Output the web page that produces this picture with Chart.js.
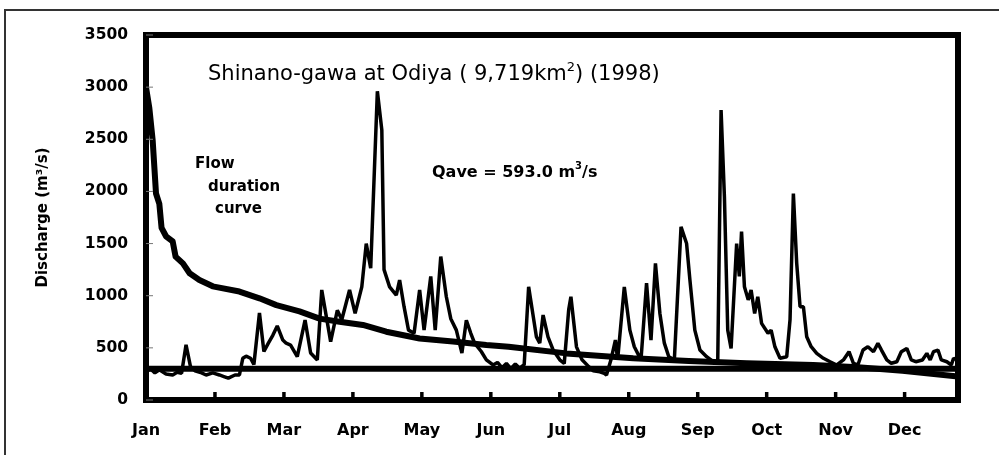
<!DOCTYPE html>
<html>
<head>
<meta charset="utf-8">
<script src="https://cdn.jsdelivr.net/npm/chart.js@4.4.1/dist/chart.umd.min.js"></script>
<style>
  html, body { margin: 0; padding: 0; background: #fff; }
  canvas { display: block; }
</style>
</head>
<body>
<canvas id="flowChart" width="999" height="455"></canvas>
<script>
// Daily discharge 1998 (m3/s), day 0 = 1 Jan
var hydroDays = [
  0, 2, 4, 6, 9, 12, 14, 16, 18, 20, 22, 25, 27, 30,            // Jan
  33, 35, 37, 40, 42, 43.5, 45, 47, 48.5, 51, 53, 55, 57, 59,    // Feb
  61.5, 63, 65, 68, 71.5, 74, 77, 79, 83, 86, 88, 91.5, 94,      // Mar
  97, 99, 101, 104, 106, 107, 109.5, 112.5, 114, 116, 118, 120.5, // Apr
  123, 125, 128, 130, 132.5, 135, 137, 139.5, 142, 144, 146, 147.7, 150.7, // May
  153, 156, 158, 160, 162, 164, 166, 168, 170, 172, 175.5, 177, 178.5, 180.7, // Jun
  183, 186, 188, 190, 191, 193.5, 196, 199, 201, 204, 206, 207, 209, 211, 212, // Jul
  215, 217.5, 219.5, 222.5, 225, 227, 229, 231, 233, 235, 237.5, 240.5, 243, 244.5, // Aug
  246.7, 249, 252, 255, 257, 258.5, 260, 261.5, 263, 265.5, 266.7, 267.7, 269, 270.7, 272, 273.6, // Sep
  275, 276.7, 279.6, 281, 282.7, 285, 288, 289.5, 291, 292.5, 294, 295.5, 297, 299, 301.5, 304.5, // Oct
  307.5, 310.5, 313.5, 316, 318, 320, 322.3, 324.5, 327, 329, 330.6, 333, 335, // Nov
  337.5, 339.5, 342, 344, 346, 349, 351, 352.5, 354, 356, 357.5, 360, 362, 363, 365 // Dec
];
var hydroQ = [
  270, 300, 260, 290, 250, 240, 265, 256, 530, 320, 280, 260, 240, 260,
  240, 225, 210, 240, 240, 400, 420, 400, 340, 835, 465, 545, 620, 710,
  575, 545, 527, 415, 767, 450, 384, 1055, 560, 860, 770, 1055, 830,
  1085, 1500, 1265, 2960, 2590, 1250, 1085, 1005, 1150, 895, 670, 640,
  1055, 670, 1185, 670, 1375, 990, 780, 670, 450, 765, 640, 545, 465,
  385, 336, 360, 310, 350, 300, 345, 305, 340, 1085, 605, 545, 815, 605,
  480, 385, 350, 865, 990, 510, 385, 320, 280, 270, 255, 240, 385, 575, 385,
  1085, 670, 510, 385, 1120, 575, 1310, 830, 545, 415, 385, 1660, 1500, 1150,
  670, 480, 415, 367, 367, 2780, 1950, 670, 495, 1500, 1185, 1615, 1085, 960, 1055, 830,
  990, 735, 640, 670, 510, 400, 415, 770, 1980, 1310, 895, 895, 607, 511, 447, 400,
  367, 336, 384, 463, 352, 336, 479, 511, 463, 543, 479, 384, 352,
  367, 463, 495, 384, 367, 384, 447, 384, 463, 479, 384, 367, 336, 400, 380
];

// Flow duration curve (days exceeded vs discharge)
var fdcDays = [0, 1.5, 3, 4.5, 6, 7, 9, 12, 13.3, 16.6, 19.6, 24, 30, 42, 51, 58.6, 69, 78, 87,
  97.5, 108, 123, 138, 153, 163, 189, 219, 244, 270, 300, 320, 340, 365];
var fdcQ = [3000, 2800, 2490, 1980, 1880, 1650, 1570, 1520, 1375, 1310, 1215, 1150, 1090, 1040, 975, 910, 850, 780, 750,
  720, 655, 590, 560, 527, 511, 447, 400, 375, 352, 336, 315, 280, 225];

// Horizontal reference level
var refDays = [0, 365];
var refQ = [300, 300];

var monthLabels = ['Jan', 'Feb', 'Mar', 'Apr', 'May', 'Jun', 'Jul', 'Aug', 'Sep', 'Oct', 'Nov', 'Dec'];
var monthTickDays = [0, 31, 62, 93, 124, 155, 186, 217, 248, 279, 310, 341];
var yTickValues = [0, 500, 1000, 1500, 2000, 2500, 3000, 3500];

function toPoints(xs, ys) {
  return xs.map(function (x, i) { return { x: x, y: ys[i] }; });
}

// draw a string with a raised superscript in the middle
function drawSup(ctx, x, y, parts, weight, size, supSize, rise) {
  ctx.font = weight + ' ' + size + 'px "DejaVu Sans"';
  ctx.fillText(parts[0], x, y);
  x += ctx.measureText(parts[0]).width;
  ctx.font = weight + ' ' + supSize + 'px "DejaVu Sans"';
  ctx.fillText(parts[1], x, y - rise);
  x += ctx.measureText(parts[1]).width;
  ctx.font = weight + ' ' + size + 'px "DejaVu Sans"';
  ctx.fillText(parts[2], x, y);
}

var decorations = {
  id: 'decorations',
  beforeDraw: function (chart) {
    var ctx = chart.ctx;
    ctx.save();
    ctx.fillStyle = '#fff';
    ctx.fillRect(0, 0, chart.width, chart.height);
    ctx.strokeStyle = '#333';
    ctx.lineWidth = 2;
    ctx.strokeRect(5, 10, 1000, 460);
    ctx.restore();
  },
  afterDatasetsDraw: function (chart) {
    var ctx = chart.ctx, a = chart.chartArea;
    var xs = chart.scales.x, ys = chart.scales.y;
    ctx.save();
    ctx.strokeStyle = '#000';
    ctx.lineWidth = 6;
    ctx.strokeRect(a.left, a.top, a.right - a.left, a.bottom - a.top);

    // month tick marks pointing into the plot
    ctx.lineWidth = 3.5;
    monthTickDays.forEach(function (d) {
      if (d === 0) return;
      var px = xs.getPixelForValue(d);
      ctx.beginPath();
      ctx.moveTo(px, a.bottom);
      ctx.lineTo(px, a.bottom - 8);
      ctx.stroke();
    });
    // thin y tick marks
    ctx.lineWidth = 1;
    ctx.strokeStyle = '#777';
    yTickValues.forEach(function (v) {
      var py = ys.getPixelForValue(v);
      ctx.beginPath();
      ctx.moveTo(a.left, py);
      ctx.lineTo(a.left + 7, py);
      ctx.stroke();
    });

    ctx.fillStyle = '#000';
    ctx.textBaseline = 'alphabetic';
    ctx.textAlign = 'left';
    drawSup(ctx, 208, 80, ['Shinano-gawa at Odiya ( 9,719km', '2', ') (1998)'], 'normal', 21, 13, 9);
    drawSup(ctx, 432, 177, ['Qave = 593.0 m', '3', '/s'], 'bold', 16, 10, 8);
    ctx.font = 'bold 15px "DejaVu Sans"';
    ctx.fillText('Flow', 195, 168);
    ctx.fillText('duration', 208, 191);
    ctx.fillText('curve', 215, 213);
    ctx.restore();
  }
};

new Chart(document.getElementById('flowChart'), {
  type: 'line',
  data: {
    datasets: [
      {
        label: 'Reference level',
        data: toPoints(refDays, refQ),
        borderColor: '#000',
        borderWidth: 6,
        pointRadius: 0
      },
      {
        label: 'Flow duration curve',
        data: toPoints(fdcDays, fdcQ),
        borderColor: '#000',
        borderWidth: 6,
        borderJoinStyle: 'round',
        pointRadius: 0
      },
      {
        label: 'Daily discharge',
        data: toPoints(hydroDays, hydroQ),
        borderColor: '#000',
        borderWidth: 3.5,
        borderJoinStyle: 'bevel',
        pointRadius: 0
      }
    ]
  },
  options: {
    responsive: false,
    animation: false,
    devicePixelRatio: 1,
    layout: { padding: { top: 35, right: 41, bottom: 0, left: 0 } },
    plugins: {
      legend: { display: false },
      tooltip: { enabled: false }
    },
    elements: { line: { tension: 0 } },
    scales: {
      x: {
        type: 'linear',
        min: 0,
        max: 365,
        afterBuildTicks: function (scale) {
          scale.ticks = monthTickDays.map(function (d) { return { value: d }; });
        },
        afterFit: function (scale) { scale.height = 55; },
        grid: { display: false },
        border: { display: false },
        ticks: {
          autoSkip: false,
          maxRotation: 0,
          padding: 13,
          color: '#000',
          font: { family: 'DejaVu Sans', weight: 'bold', size: 16 },
          callback: function (value) { return monthLabels[monthTickDays.indexOf(value)]; }
        }
      },
      y: {
        min: 0,
        max: 3500,
        afterFit: function (scale) { scale.width = 146; },
        grid: { display: false },
        border: { display: false },
        ticks: {
          stepSize: 500,
          padding: 10,
          color: '#000',
          font: { family: 'DejaVu Sans', weight: 'bold', size: 15.5 },
          callback: function (value) { return String(value); }
        },
        title: {
          display: true,
          text: 'Discharge (m³/s)',
          color: '#000',
          font: { family: 'DejaVu Sans', weight: 'bold', size: 15 },
          padding: { top: 34, bottom: 0 }
        }
      }
    }
  },
  plugins: [decorations]
});
</script>
</body>
</html>
